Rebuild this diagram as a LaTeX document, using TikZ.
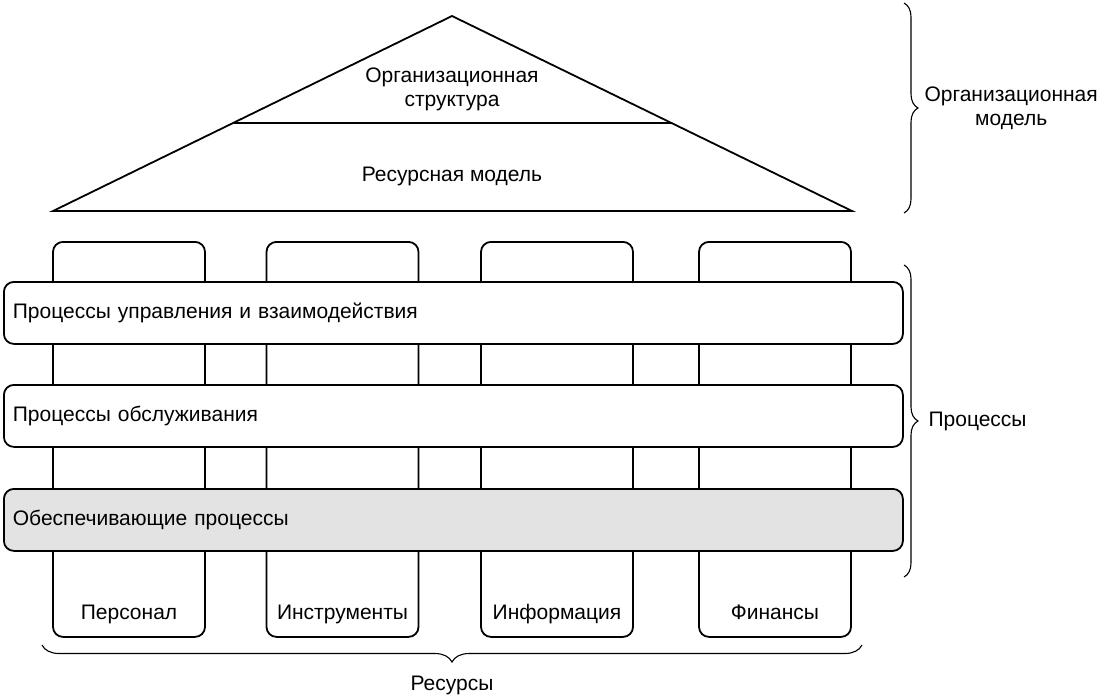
\documentclass[tikz,border=0pt]{standalone}
\usepackage{fontspec}
\setmainfont{Liberation Sans}
\usetikzlibrary{positioning,calc,decorations.pathreplacing}
\definecolor{supportgray}{gray}{0.89}

\begin{document}
\begin{tikzpicture}[x=1pt,y=-1pt,
	every node/.style={font=\fontsize{21}{24}\selectfont},
	pillar/.style={draw, line width=1.8pt, rounded corners=10pt, anchor=north,
		minimum width=152pt, minimum height=395pt, inner sep=0pt},
	procbar/.style={draw, line width=1.8pt, rounded corners=10pt, fill=white, anchor=north west,
		minimum height=62pt, text width=881pt, inner xsep=9pt, align=left},
	reslabel/.style={inner sep=0pt, text height=0.72em, text depth=0.22em},
	bracket/.style={decorate, decoration={brace, amplitude=14pt}, line width=1.1pt},
	node distance=0.5cm]
	\useasboundingbox (0,0) rectangle (1102,697);

	% roof
	\coordinate (apex) at (452,16);
	\coordinate (baseL) at (53,211);
	\coordinate (baseR) at (852,211);
	\draw[line width=1.8pt, line join=miter] (apex) -- (baseL) -- (baseR) -- cycle;
	\coordinate (midL) at ($(baseL)!0.451!(apex)$);
	\coordinate (midR) at ($(baseR)!0.451!(apex)$);
	\draw[line width=1.8pt] (midL) -- (midR);
	\node[align=center] (orgstr) at (452,89) {Организационная\\структура};
	\node (resmod) at (452,176) {Ресурсная модель};

	% pillars
	\node[pillar] (p1) at (129,241) {};
	\node[pillar] (p2) at (342.5,241) {};
	\node[pillar] (p3) at (557,241) {};
	\node[pillar] (p4) at (775,241) {};
	\node[reslabel, above=16pt of p1.south] (r1) {Персонал};
	\node[reslabel, above=16pt of p2.south] (r2) {Инструменты};
	\node[reslabel, above=16pt of p3.south] (r3) {Информация};
	\node[reslabel, above=16pt of p4.south] (r4) {Финансы};

	% processes
	\node[procbar] (b1) at (3,281) {Процессы управления и взаимодействия};
	\node[procbar] (b2) at (3,384) {Процессы обслуживания};
	\node[procbar, fill=supportgray] (b3) at (3,488) {Обеспечивающие процессы};

	% braces
	\coordinate (ob1) at (904,3);
	\coordinate (ob2) at (904,213);
	\draw[bracket] (ob1) -- (ob2) node[midway, right=20pt, inner sep=0pt, align=center] (orgmod) {Организационная\\модель};
	\coordinate (pb1) at (904,265);
	\coordinate (pb2) at (904,577);
	\draw[bracket] (pb1) -- (pb2) node[midway, right=24pt, inner sep=0pt] (procs) {Процессы};
	\coordinate (rb1) at (862,645);
	\coordinate (rb2) at (42,645);
	\draw[bracket, decoration={amplitude=17pt}] (rb1) -- (rb2) node[midway, below=27pt] (res) {Ресурсы};
\end{tikzpicture}
\end{document}
